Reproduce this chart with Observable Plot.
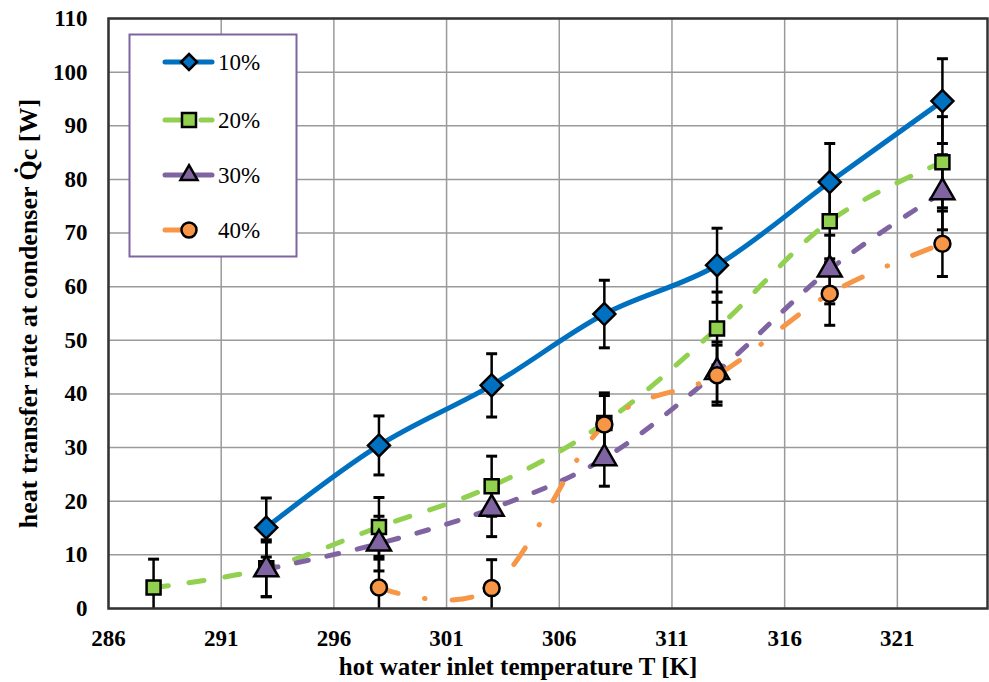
<!DOCTYPE html>
<html>
<head>
<meta charset="utf-8">
<script src="https://cdn.jsdelivr.net/npm/d3@7"></script>
<script src="https://cdn.jsdelivr.net/npm/@observablehq/plot@0.6"></script>
<style>
  html, body { margin: 0; padding: 0; background: #fff; }
  #chart { width: 989px; height: 682px; }
</style>
</head>
<body>
<div id="chart"></div>
<script>
// ---- data ----
const xTicks = [286, 291, 296, 301, 306, 311, 316, 321];
const yTicks = [0, 10, 20, 30, 40, 50, 60, 70, 80, 90, 100, 110];

const seriesNames = ["10%", "20%", "30%", "40%"];

const temps10 = [293, 298, 303, 308, 313, 318, 323];
const q10     = [15.1, 30.4, 41.6, 54.9, 64.0, 79.5, 94.6];
const err10   = [5.5, 5.5, 5.9, 6.3, 6.9, 7.2, 7.9];

const temps20 = [288, 293, 298, 303, 308, 313, 318, 323];
const q20     = [3.9, 7.5, 15.2, 22.8, 34.6, 52.2, 72.2, 83.2];
const err20   = [5.3, 5.3, 5.5, 5.6, 5.6, 6.8, 7.0, 8.5];

const temps30 = [293, 298, 303, 308, 313, 318, 323];
const q30     = [7.3, 12.1, 18.6, 28.0, 44.1, 63.2, 77.6];
const err30   = [5.1, 5.1, 5.2, 5.2, 5.6, 6.4, 7.0];

const temps40 = [298, 303, 308, 313, 318, 323];
const q40     = [3.9, 3.8, 34.3, 43.5, 58.7, 68.0];
const err40   = [5.3, 5.3, 5.4, 5.6, 5.9, 6.1];

// ---- styles ----
const colors = ["#0070C0", "#92D050", "#8064A2", "#F79646"];
const dashes = [null, "15,21", "12,19", "20,27,0.5,27"];
const symbols = ["diamond2", "square", "triangle", "circle"];
const radii = [9.9, 7.9, 8.9, 8];

const rows = (t, q, e, s) => t.map((x, i) => ({t: x, q: q[i], e: e[i], s}));
const data = [
  rows(temps10, q10, err10, 0),
  rows(temps20, q20, err20, 1),
  rows(temps30, q30, err30, 2),
  rows(temps40, q40, err40, 3)
];
const all = data.flat();

const capSymbol = {
  draw(ctx) { ctx.moveTo(-5.5, 0); ctx.lineTo(5.5, 0); }
};

const font = "'Liberation Serif', 'Times New Roman', serif";

const marks = [
  Plot.gridY(yTicks, {stroke: "#9a9a9a", strokeOpacity: 1, strokeWidth: 1.5}),
  Plot.gridX(xTicks, {stroke: "#9a9a9a", strokeOpacity: 1, strokeWidth: 1.5}),
  Plot.axisY(yTicks, {tickSize: 0, tickPadding: 21, fontSize: 23, fontWeight: "bold", fontFamily: font, label: null, fill: "black"}),
  Plot.axisX(xTicks, {tickSize: 0, tickPadding: 21, fontSize: 23, fontWeight: "bold", fontFamily: font, label: null, fill: "black"}),
  // error bars
  Plot.ruleX(all, {x: "t", y1: d => Math.max(0, d.q - d.e), y2: d => d.q + d.e, stroke: "black", strokeWidth: 2.5}),
  Plot.dot(all, {x: "t", y: d => d.q + d.e, symbol: capSymbol, stroke: "black", strokeWidth: 3, fill: "none"}),
  Plot.dot(all.filter(d => d.q - d.e > 0), {x: "t", y: d => d.q - d.e, symbol: capSymbol, stroke: "black", strokeWidth: 3, fill: "none"}),
];
// lines
data.forEach((d, i) => {
  marks.push(Plot.line(d, {x: "t", y: "q", curve: "cardinal", stroke: colors[i], strokeWidth: 5,
    strokeDasharray: dashes[i] || undefined, strokeLinecap: "round", strokeLinejoin: "round"}));
});
// markers
data.forEach((d, i) => {
  marks.push(Plot.dot(d, {x: "t", y: "q", symbol: symbols[i], r: radii[i], fill: colors[i], stroke: "black", strokeWidth: 2.5}));
});
marks.push(Plot.frame({stroke: "#333", strokeWidth: 2.5}));
marks.push(Plot.text(["heat transfer rate at condenser Q\u0307c [W]"], {frameAnchor: "left", textAnchor: "middle", rotate: -90, dx: -80,
  fontSize: 26, fontWeight: "bold", fontFamily: font, fill: "black"}));
marks.push(Plot.text(["hot water inlet temperature T [K]"], {frameAnchor: "bottom", textAnchor: "middle", dy: 66, dx: -30,
  fontSize: 25, fontWeight: "bold", fontFamily: font, fill: "black"}));

const chart = Plot.plot({
  width: 989,
  height: 682,
  marginLeft: 108,
  marginRight: 2,
  marginTop: 18,
  marginBottom: 74,
  x: {domain: [286, 325]},
  y: {domain: [0, 110]},
  style: {background: "white", color: "black", overflow: "visible"},
  marks
});

// ---- legend (inside plot area, top-left) ----
const svg = d3.select(chart);
const lg = svg.append("g").attr("text-anchor", "start");
lg.append("rect").attr("x", 129.5).attr("y", 34.5).attr("width", 167).attr("height", 222)
  .attr("fill", "white").attr("stroke", "#8064A2").attr("stroke-width", 2);
const legendY = [62, 120, 175, 230];
const legendSym = [d3.symbolDiamond2, d3.symbolSquare, d3.symbolTriangle, d3.symbolCircle];
const legendSize = [163, 196, 125, 177];
seriesNames.forEach((name, i) => {
  const y = legendY[i];
  lg.append("line").attr("x1", 165).attr("x2", i === 3 ? 188 : 212).attr("y1", y).attr("y2", y)
    .attr("stroke", colors[i]).attr("stroke-width", 5).attr("stroke-linecap", "round")
    .attr("stroke-dasharray", i === 1 ? "15,21" : null);
  lg.append("path").attr("d", d3.symbol(legendSym[i], legendSize[i])())
    .attr("transform", `translate(189,${y})`)
    .attr("fill", colors[i]).attr("stroke", "black").attr("stroke-width", 2.5);
  lg.append("text").attr("x", 218).attr("y", y + 8).text(name)
    .style("text-anchor", "start")
    .style("font-family", "'Liberation Serif', serif")
    .style("font-size", "23px")
    .style("font-weight", "normal")
    .attr("fill", "black");
});

document.getElementById("chart").appendChild(chart);
</script>
</body>
</html>
